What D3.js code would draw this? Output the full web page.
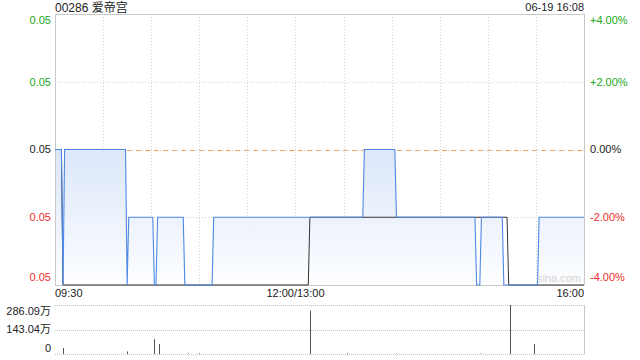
<!DOCTYPE html>
<html><head><meta charset="utf-8">
<script src="https://cdn.jsdelivr.net/npm/d3@7"></script>
<style>
html,body{margin:0;padding:0;background:#fff;}
svg{display:block;font-family:"Liberation Sans",Arial,sans-serif;}
</style></head>
<body><svg id="c" width="640" height="360"></svg>
<script>
// ---- data ----
const title = "00286 爱帝宫";
const stamp = "06-19 16:08";
const prevClose = 0.051;
const priceTimes = ["09:30","09:34","09:35","09:36","10:14","10:15","10:16","10:31","10:32","10:33","10:34","10:50","10:51","11:08","11:09","13:42","13:43","14:02","14:03","14:52","14:53","14:55","14:56","15:09","15:10","15:31","15:32","16:00"];
const priceValues = [0.051,0.051,0.049,0.051,0.051,0.049,0.050,0.050,0.049,0.049,0.050,0.050,0.049,0.049,0.050,0.050,0.051,0.051,0.050,0.050,0.049,0.049,0.050,0.050,0.049,0.049,0.050,0.050];
const avgTimes = ["09:30","09:34","09:35","13:08","13:09","15:12","15:13","16:00"];
const avgValues = [0.051,0.051,0.049,0.049,0.050,0.050,0.049,0.049];
const volTimes = ["09:35","10:15","10:32","10:35","10:53","11:00","13:09","13:32","14:03","14:55","15:14","15:29"];
const volValues = [350000,150000,870000,580000,40000,40000,2530000,40000,30000,30000,2860900,580000];
const priceTicks = [0.049,0.050,0.051,0.052,0.053];
const priceTickLabels = ["0.05","0.05","0.05","0.05","0.05"];
const pctTickLabels = ["-4.00%","-2.00%","0.00%","+2.00%","+4.00%"];
const volTicks = [0,1430450,2860900];
const volTickLabels = ["0","143.04万","286.09万"];
const xTickTimes = ["09:30","12:00/13:00","16:00"];

// ---- helpers ----
function idx(t){ // trading minutes since open (lunch break removed)
  const [h,m] = t.split(":").map(Number);
  let v = h*60+m - (9*60+30);
  if (h >= 13) v -= 60;
  return v;
}
const L=55, R=584, T=14, B=285, VT=305, VB=354;
const svg = d3.select("#c");
const x = d3.scaleLinear().domain([0,330]).range([L,R]);
const y = d3.scaleLinear().domain([0.049,0.053]).range([B,T]);
const yv = d3.scaleLinear().domain([0,2860900]).range([VB,VT]);
const green="#22a822", red="#ee2e2e", txt="#222";

// gradient
const defs = svg.append("defs");
const g = defs.append("linearGradient").attr("id","fillg").attr("gradientUnits","userSpaceOnUse")
  .attr("x1",0).attr("y1",y(0.051)).attr("x2",0).attr("y2",B);
g.append("stop").attr("offset",0).attr("stop-color","#dce7fa");
g.append("stop").attr("offset",1).attr("stop-color","#fdfeff");

// grid - vertical dotted
const vgrid = d3.range(30,330,30);
svg.append("g").selectAll("line").data(vgrid).join("line")
  .attr("x1",d=>Math.round(x(d))+0.5).attr("x2",d=>Math.round(x(d))+0.5).attr("y1",T).attr("y2",B)
  .attr("stroke","#cfcfcf").attr("stroke-dasharray","1,2");
// horizontal dotted
svg.append("g").selectAll("line").data([0.050,0.051,0.052]).join("line")
  .attr("x1",L).attr("x2",R).attr("y1",d=>Math.round(y(d))+0.5).attr("y2",d=>Math.round(y(d))+0.5)
  .attr("stroke","#cfcfcf").attr("stroke-dasharray","1,2");
// prev close dashed orange
svg.append("line").attr("x1",L).attr("x2",R).attr("y1",Math.round(y(prevClose))+0.5).attr("y2",Math.round(y(prevClose))+0.5)
  .attr("stroke","#f4a467").attr("stroke-dasharray","5,4");

// area + line
const pdata = priceTimes.map((t,i)=>({m:idx(t),p:priceValues[i]}));
svg.append("path").datum(pdata)
  .attr("d", d3.area().x(d=>x(d.m)).y0(B).y1(d=>y(d.p)))
  .attr("fill","url(#fillg)");
const adata = avgTimes.map((t,i)=>({m:idx(t),p:avgValues[i]}));

// frame
svg.append("line").attr("x1",L+0.5).attr("x2",L+0.5).attr("y1",T).attr("y2",B).attr("stroke","#c8c8c8");
svg.append("line").attr("x1",R+0.5).attr("x2",R+0.5).attr("y1",T).attr("y2",B).attr("stroke","#c8c8c8");
svg.append("line").attr("x1",L).attr("x2",R).attr("y1",T+0.5).attr("y2",T+0.5).attr("stroke","#c8c8c8");
svg.append("line").attr("x1",L).attr("x2",R).attr("y1",B+0.5).attr("y2",B+0.5).attr("stroke","#c8c8c8");

svg.append("path").datum(adata)
  .attr("d", d3.line().x(d=>x(d.m)).y(d=>y(d.p)))
  .attr("fill","none").attr("stroke","#333").attr("stroke-width",1);
svg.append("path").datum(pdata)
  .attr("d", d3.line().x(d=>x(d.m)).y(d=>y(d.p)))
  .attr("fill","none").attr("stroke","#4f88e6").attr("stroke-width",1.1);

// watermark
svg.append("text").attr("x",R-3).attr("y",282).attr("text-anchor","end")
  .attr("font-size",11).attr("fill","#d2d2d2").text("sina.com");

// left labels
const lblY = v => { const yy=y(v); return Math.min(Math.max(yy,20),277); };
svg.append("g").selectAll("text").data(priceTicks).join("text")
  .attr("x",51).attr("y",d=>lblY(d)).attr("dy","0.35em").attr("text-anchor","end")
  .attr("font-size",11)
  .attr("fill",d=>d>prevClose?green:(d<prevClose?red:txt))
  .text((d,i)=>priceTickLabels[i]);
svg.append("g").selectAll("text").data(priceTicks).join("text")
  .attr("x",590).attr("y",d=>lblY(d)).attr("dy","0.35em").attr("text-anchor","start")
  .attr("font-size",11)
  .attr("fill",d=>d>prevClose?green:(d<prevClose?red:txt))
  .text((d,i)=>pctTickLabels[i]);

// title
svg.append("text").attr("x",L).attr("y",12).attr("font-size",12).attr("fill",txt)
  .attr("font-family","'Liberation Sans','Noto Sans CJK SC',sans-serif").text(title);
svg.append("text").attr("x",R).attr("y",11).attr("text-anchor","end").attr("font-size",11).attr("fill",txt).text(stamp);

// x labels
const xPos = [x(0), x(150), x(330)];
const anchors = ["start","middle","end"];
svg.append("g").selectAll("text").data(xTickTimes).join("text")
  .attr("x",(d,i)=>xPos[i]).attr("y",297).attr("text-anchor",(d,i)=>anchors[i])
  .attr("font-size",11).attr("fill",txt).text(d=>d);

// volume panel
svg.append("g").selectAll("line").data(volTicks).join("line")
  .attr("x1",L).attr("x2",R).attr("y1",d=>Math.round(yv(d))+0.5).attr("y2",d=>Math.round(yv(d))+0.5)
  .attr("stroke","#c4c4c4").attr("stroke-dasharray","1,1");
svg.append("line").attr("x1",R+0.5).attr("x2",R+0.5).attr("y1",VT).attr("y2",VB).attr("stroke","#c8c8c8");
const vdata = volTimes.map((t,i)=>({m:idx(t),v:volValues[i]}));
svg.append("g").selectAll("line").data(vdata).join("line")
  .attr("x1",d=>Math.round(x(d.m))+0.5).attr("x2",d=>Math.round(x(d.m))+0.5)
  .attr("y1",VB).attr("y2",d=>yv(d.v)).attr("stroke","#555");
const vlY = v => Math.min(Math.max(yv(v),311),348);
svg.append("g").selectAll("text").data(volTicks).join("text")
  .attr("x",51).attr("y",d=>vlY(d)).attr("dy","0.35em").attr("text-anchor","end")
  .attr("font-size",11).attr("fill",txt)
  .attr("font-family","'Liberation Sans','Noto Sans CJK SC',sans-serif")
  .text((d,i)=>volTickLabels[i]);
</script></body></html>
